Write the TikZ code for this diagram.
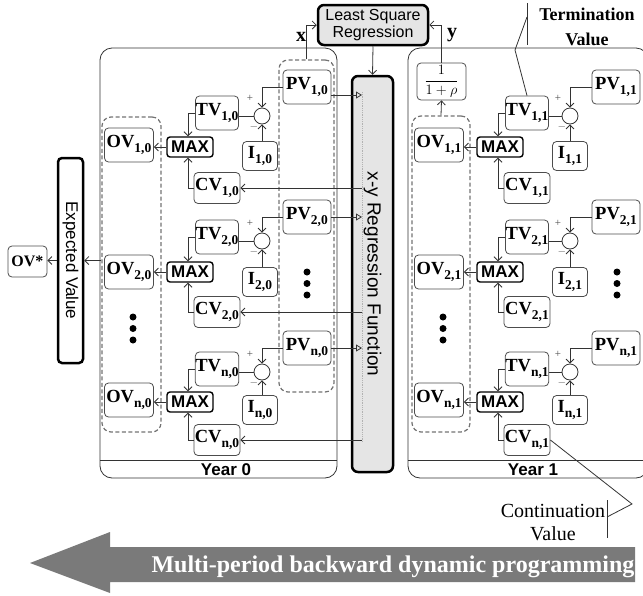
\documentclass[tikz,border=0pt]{standalone}
\usepackage{fontspec}
\setmainfont{Liberation Serif}
\setsansfont{Liberation Sans}
\usetikzlibrary{arrows.meta}
\newcommand{\idx}[1]{\raisebox{-4.5pt}{\fontsize{13.5}{13.5}\selectfont #1}}

\begin{document}
\begin{tikzpicture}[x=1pt, y=-1pt,
    line/.style={line width=0.8pt, black!80},
    arr/.style={line, -{Straight Barb[length=4pt,width=8pt]}},
    tri/.style={line, -{Triangle[open,length=6pt,width=7pt]}},
    valbox/.style={draw=black!70, line width=0.8pt, rounded corners=4pt, inner sep=0pt,
        font=\fontsize{18.5}{18.5}\selectfont\bfseries},
    ovbox/.style={valbox, minimum width=49pt, minimum height=34pt},
    tvbox/.style={valbox, minimum width=43pt, minimum height=34pt},
    cvbox/.style={valbox, minimum width=46pt, minimum height=31pt},
    pvbox/.style={valbox, minimum width=48pt, minimum height=34pt},
    ibox/.style={valbox, minimum width=35pt, minimum height=29pt},
    maxbox/.style={draw, line width=1.4pt, rounded corners=3pt, inner sep=0pt,
        minimum width=46pt, minimum height=20pt, font=\fontsize{17}{17}\selectfont\sffamily\bfseries},
    sumnode/.style={circle, draw=black!80, line width=0.8pt, minimum size=16pt, inner sep=0pt},
    sign/.style={inner sep=0pt, text=black!70, font=\fontsize{11}{11}\selectfont},
    grpbox/.style={draw=black!55, line width=1.2pt, dash pattern=on 4pt off 2.5pt, rounded corners=9pt},
    panel/.style={draw=black!80, line width=0.8pt, rounded corners=12pt},
    thickbox/.style={draw, line width=2.5pt, rounded corners=6pt, fill=black!10, inner sep=0pt},
    yearlabel/.style={inner sep=0pt, font=\fontsize{17}{17}\selectfont\sffamily\bfseries},
    note/.style={align=center, inner sep=0pt}
]
\useasboundingbox (0,0) rectangle (643,595);

% Panels of the two years
\draw[panel] (100,48) rectangle (337,478);
\draw[line] (100,460) -- (337,460);
\node[yearlabel] (yr0) at (226,470) {Year 0};
\draw[panel] (408,48) rectangle (648,478);
\draw[line] (408,460) -- (648,460);
\node[yearlabel] (yr1) at (533,470) {Year 1};

% Dashed groups
\node[grpbox, minimum width=55pt, minimum height=332pt] (pvgrp0) at (306.5,226) {};
\node[grpbox, minimum width=59pt, minimum height=315pt] (ovgrp0) at (131.5,274.5) {};
\node[grpbox, minimum width=58pt, minimum height=316pt] (ovgrp1) at (441,274) {};

% Regression boxes
\node[thickbox, align=center, minimum width=110pt, minimum height=40pt,
    font=\fontsize{16}{17}\selectfont\sffamily] (lsr) at (373,25) {Least Square\\Regression};
\node[thickbox, rotate=-90, minimum width=396pt, minimum height=41pt,
    font=\fontsize{19}{19}\selectfont\sffamily] (reg) at (372.5,274) {x-y Regression Function};
\coordinate (regtop) at (362,92);
\coordinate (regbot) at (362,442);
\draw[black!30, densely dotted, line width=0.8pt] (regtop) -- (regbot);

% Expected value and OV*
\node[draw, line width=2.5pt, rounded corners=4pt, rotate=-90, minimum width=205pt, minimum height=25pt,
    inner sep=0pt, font=\fontsize{17}{17}\selectfont\sffamily] (ev) at (70.5,260.5) {Expected Value};
\node[valbox, minimum width=39pt, minimum height=31pt, font=\fontsize{16}{16}\selectfont\bfseries] (ovstar) at (27.5,261.5) {OV*};
\draw[arr] (ovgrp0.west |- ev) -- (ev.north);
\draw[arr] (ev.south) -- (ev.south -| ovstar.east);

% Discount box
\node[valbox, minimum width=49pt, minimum height=37pt, font=\fontsize{14}{14}\selectfont] (rho) at (441.5,81.5) {$\displaystyle\frac{1}{1+\rho}$};
\draw[arr] (ovgrp1.north) -- (rho.south);

% x and y links to the least square regression
\draw[arr] (pvgrp0.north) |- (lsr.west);
\node[inner sep=0pt, font=\fontsize{20}{20}\selectfont\bfseries] (xlab) at (301,37) {x};
\draw[arr] (rho.north) |- (lsr.east);
\node[inner sep=0pt, font=\fontsize{20}{20}\selectfont\bfseries] (ylab) at (452,35) {y};
\draw[arr] (lsr.south) -- (reg.west);

% ---------------- Year 0 ----------------
% Row 1
\node[ovbox] (ov10) at (129,145) {OV\idx{1,0}};
\node[maxbox] (max10) at (190,147) {MAX};
\node[tvbox] (tv10) at (217,113) {TV\idx{1,0}};
\node[cvbox] (cv10) at (217,188) {CV\idx{1,0}};
\node[sumnode] (s10) at (262,116) {};
\node[ibox] (i10) at (260,156) {I\idx{1,0}};
\node[pvbox] (pv10) at (307,87) {PV\idx{1,0}};
\node[sign] (pl10) at ([shift={(-12,-18)}]s10) {+};
\node[sign] (mi10) at ([shift={(-8,11)}]s10) {$-$};
\draw[arr] (pv10.west) -| (s10.north);
\draw[line] (tv10.east |- s10) -- (s10.west);
\draw[arr] (i10.north -| s10) -- (s10.south);
\draw[arr] (tv10.west) -| ([xshift=-2pt]max10.north);
\draw[arr] (cv10.west) -| ([xshift=-2pt]max10.south);
\draw[arr] (max10.west) -- (max10.west -| ov10.east);
\draw[tri] ([yshift=-8pt]pv10.east) -- ([yshift=-8pt]pv10.east -| regtop);
\draw[arr] (cv10.east -| regtop) -- (cv10.east);

% Row 2
\node[ovbox] (ov20) at (129,272) {OV\idx{2,0}};
\node[maxbox] (max20) at (190,272) {MAX};
\node[tvbox] (tv20) at (217,237) {TV\idx{2,0}};
\node[cvbox] (cv20) at (217,312) {CV\idx{2,0}};
\node[sumnode] (s20) at (262,241) {};
\node[ibox] (i20) at (260,282) {I\idx{2,0}};
\node[pvbox] (pv20) at (307,217) {PV\idx{2,0}};
\node[sign] (pl20) at ([shift={(-12,-18)}]s20) {+};
\node[sign] (mi20) at ([shift={(-8,11)}]s20) {$-$};
\draw[arr] (pv20.west) -| (s20.north);
\draw[line] (tv20.east |- s20) -- (s20.west);
\draw[arr] (i20.north -| s20) -- (s20.south);
\draw[arr] (tv20.west) -| ([xshift=-2pt]max20.north);
\draw[arr] (cv20.west) -| ([xshift=-2pt]max20.south);
\draw[arr] (max20.west) -- (max20.west -| ov20.east);
\draw[tri] (pv20.east) -- (pv20.east -| regtop);
\draw[arr] (cv20.east -| regtop) -- (cv20.east);

% Row n
\node[ovbox] (ovn0) at (129,400) {OV\idx{n,0}};
\node[maxbox] (maxn0) at (190,402) {MAX};
\node[tvbox] (tvn0) at (217,369) {TV\idx{n,0}};
\node[cvbox] (cvn0) at (217,440) {CV\idx{n,0}};
\node[sumnode] (sn0) at (262,372) {};
\node[ibox] (in0) at (260,410) {I\idx{n,0}};
\node[pvbox] (pvn0) at (307,348) {PV\idx{n,0}};
\node[sign] (pln0) at ([shift={(-12,-18)}]sn0) {+};
\node[sign] (min0) at ([shift={(-8,11)}]sn0) {$-$};
\draw[arr] (pvn0.west) -| (sn0.north);
\draw[line] (tvn0.east |- sn0) -- (sn0.west);
\draw[arr] (in0.north -| sn0) -- (sn0.south);
\draw[arr] (tvn0.west) -| ([xshift=-2pt]maxn0.north);
\draw[arr] (cvn0.west) -| ([xshift=-2pt]maxn0.south);
\draw[arr] (maxn0.west) -- (maxn0.west -| ovn0.east);
\draw[tri] (pvn0.east) -- (pvn0.east -| regtop);
\draw[arr] (cvn0.east -| regtop) -- (cvn0.east);

% Dots of year 0
\fill (307,272) circle (3.5); \fill (307,283.5) circle (3.5); \fill (307,295) circle (3.5);
\fill (133,317) circle (3.5); \fill (133,328.5) circle (3.5); \fill (133,340) circle (3.5);

% ---------------- Year 1 ----------------
% Row 1
\node[ovbox] (ov11) at (439,145) {OV\idx{1,1}};
\node[maxbox] (max11) at (500,147) {MAX};
\node[tvbox] (tv11) at (527,113) {TV\idx{1,1}};
\node[cvbox] (cv11) at (527,188) {CV\idx{1,1}};
\node[sumnode] (s11) at (570,116) {};
\node[ibox] (i11) at (570,156) {I\idx{1,1}};
\node[pvbox] (pv11) at (616,87) {PV\idx{1,1}};
\node[sign] (pl11) at ([shift={(-12,-18)}]s11) {+};
\node[sign] (mi11) at ([shift={(-8,11)}]s11) {$-$};
\draw[arr] (pv11.west) -| (s11.north);
\draw[line] (tv11.east |- s11) -- (s11.west);
\draw[arr] (i11.north -| s11) -- (s11.south);
\draw[arr] (tv11.west) -| ([xshift=-2pt]max11.north);
\draw[arr] (cv11.west) -| ([xshift=-2pt]max11.south);
\draw[arr] (max11.west) -- (max11.west -| ov11.east);

% Row 2
\node[ovbox] (ov21) at (439,272) {OV\idx{2,1}};
\node[maxbox] (max21) at (500,272) {MAX};
\node[tvbox] (tv21) at (527,237) {TV\idx{2,1}};
\node[cvbox] (cv21) at (527,312) {CV\idx{2,1}};
\node[sumnode] (s21) at (570,241) {};
\node[ibox] (i21) at (570,282) {I\idx{2,1}};
\node[pvbox] (pv21) at (616,217) {PV\idx{2,1}};
\node[sign] (pl21) at ([shift={(-12,-18)}]s21) {+};
\node[sign] (mi21) at ([shift={(-8,11)}]s21) {$-$};
\draw[arr] (pv21.west) -| (s21.north);
\draw[line] (tv21.east |- s21) -- (s21.west);
\draw[arr] (i21.north -| s21) -- (s21.south);
\draw[arr] (tv21.west) -| ([xshift=-2pt]max21.north);
\draw[arr] (cv21.west) -| ([xshift=-2pt]max21.south);
\draw[arr] (max21.west) -- (max21.west -| ov21.east);

% Row n
\node[ovbox] (ovn1) at (439,400) {OV\idx{n,1}};
\node[maxbox] (maxn1) at (500,402) {MAX};
\node[tvbox] (tvn1) at (527,369) {TV\idx{n,1}};
\node[cvbox] (cvn1) at (527,440) {CV\idx{n,1}};
\node[sumnode] (sn1) at (570,372) {};
\node[ibox] (in1) at (570,410) {I\idx{n,1}};
\node[pvbox] (pvn1) at (616,348) {PV\idx{n,1}};
\node[sign] (pln1) at ([shift={(-12,-18)}]sn1) {+};
\node[sign] (min1) at ([shift={(-8,11)}]sn1) {$-$};
\draw[arr] (pvn1.west) -| (sn1.north);
\draw[line] (tvn1.east |- sn1) -- (sn1.west);
\draw[arr] (in1.north -| sn1) -- (sn1.south);
\draw[arr] (tvn1.west) -| ([xshift=-2pt]maxn1.north);
\draw[arr] (cvn1.west) -| ([xshift=-2pt]maxn1.south);
\draw[arr] (maxn1.west) -- (maxn1.west -| ovn1.east);

% Dots of year 1
\fill (617,272) circle (3.5); \fill (617,283.5) circle (3.5); \fill (617,295) circle (3.5);
\fill (443,317) circle (3.5); \fill (443,328.5) circle (3.5); \fill (443,340) circle (3.5);

% Termination value callout
\node[note, font=\fontsize{18}{25}\selectfont\bfseries] (termval) at (587,27) {Termination\\Value};
\coordinate (tbar) at (527,17);
\draw[line] (527,3) -- (527,45);
\draw[line] (tbar) -- (515,50) -- (tv11.north);

% Continuation value callout
\node[note, font=\fontsize{20}{23}\selectfont] (contval) at (553,523) {Continuation\\Value};
\coordinate (cbar) at (607,517);
\draw[line] (607,500) -- (607,538);
\draw[line] (cvn1.east) -- (632,504) -- (cbar);

% Backward arrow
\fill[black!52] (30,563) -- (110,532) -- (110,547) -- (635,547) -- (635,582) -- (110,582) -- (110,593) -- cycle;
\node[inner sep=0pt, text=white, font=\fontsize{24}{24}\selectfont\bfseries] (dp) at (393,567) {Multi-period backward dynamic programming};
\end{tikzpicture}
\end{document}
